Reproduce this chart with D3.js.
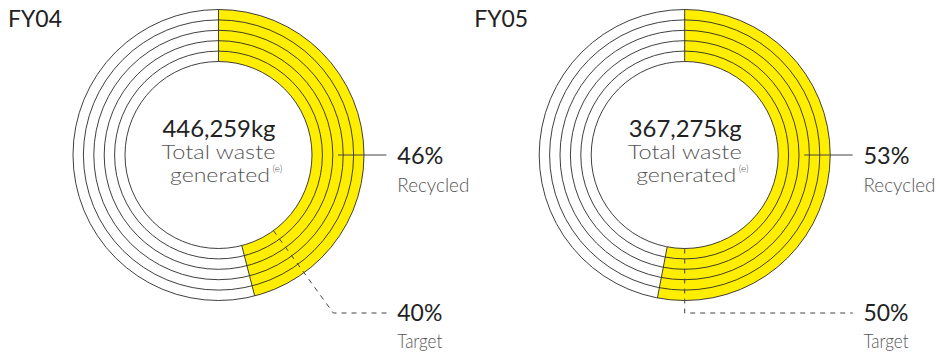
<!DOCTYPE html>
<html>
<head>
<meta charset="utf-8">
<script src="https://cdn.jsdelivr.net/npm/d3@7"></script>
<style>
  html, body { margin: 0; padding: 0; background: #fff; }
  svg { display: block; }
  text { font-family: "Lato", "Noto Sans", sans-serif; }
</style>
</head>
<body>
<svg id="chart" width="940" height="354"></svg>
<script>
// ---- data ----
const years = ["FY04", "FY05"];
const totals = ["446,259kg", "367,275kg"];
const recycledPct = [46, 53];
const targetPct = [40, 50];
const centerLine1 = "Total waste";
const centerLine2 = "generated";
const footnoteMark = "(e)";
const recycledLabel = "Recycled";
const targetLabel = "Target";
const ringCount = 5;

// ---- layout ----
const svg = d3.select("#chart");
const centersX = [218.5, 684.7];
const cy = 155;
const rInner = 93.5, rOuter = 145.5;
const yellow = "#FFEE00";
const lineCol = "#2a2a2a";

const angle = d3.scaleLinear().domain([0, 100]).range([0, 2 * Math.PI]);
const ringR = d3.scaleLinear().domain([0, ringCount]).range([rInner, rOuter]);

function fitText(sel, w) {
  sel.attr("textLength", w).attr("lengthAdjust", "spacingAndGlyphs");
  return sel;
}

years.forEach((yr, i) => {
  const cx = centersX[i];
  const g = svg.append("g").attr("transform", `translate(${cx},${cy})`);

  // yellow recycled band
  const arc = d3.arc().innerRadius(rInner).outerRadius(rOuter)
    .startAngle(0).endAngle(angle(recycledPct[i]));
  g.append("path").attr("d", arc()).attr("fill", yellow);

  // ring circles
  d3.range(ringCount + 1).forEach(k => {
    g.append("circle").attr("r", ringR(k))
      .attr("fill", "none").attr("stroke", lineCol).attr("stroke-width", 0.9);
  });

  // radial edges of band
  [0, recycledPct[i]].forEach(p => {
    const a = angle(p);
    g.append("line")
      .attr("x1", rInner * Math.sin(a)).attr("y1", -rInner * Math.cos(a))
      .attr("x2", rOuter * Math.sin(a)).attr("y2", -rOuter * Math.cos(a))
      .attr("stroke", lineCol).attr("stroke-width", 0.9);
  });

  const labelX = 178.8;
  const lineEndX = 168;

  // recycled leader line
  g.append("line")
    .attr("x1", (rInner + rOuter) / 2).attr("y1", 0)
    .attr("x2", lineEndX).attr("y2", 0)
    .attr("stroke", "#444").attr("stroke-width", 1);

  // target dashed leader
  const aT = angle(targetPct[i]);
  const yBottom = 158;
  const rEnd = yBottom / (-Math.cos(aT));
  const xBend = rEnd * Math.sin(aT);
  g.append("path")
    .attr("d", `M${rInner * Math.sin(aT)},${-rInner * Math.cos(aT)} L${xBend},${yBottom} L${lineEndX},${yBottom}`)
    .attr("fill", "none").attr("stroke", "#444").attr("stroke-width", 1)
    .attr("stroke-dasharray", "5,5");

  // labels
  fitText(g.append("text").attr("x", labelX).attr("y", 9)
    .attr("font-size", 23).attr("fill", "#222").text(recycledPct[i] + "%"), 46);
  fitText(g.append("text").attr("x", labelX).attr("y", 36.5)
    .attr("font-size", 19).attr("font-weight", 300).attr("fill", "#555").text(recycledLabel), 72);
  fitText(g.append("text").attr("x", labelX).attr("y", 166)
    .attr("font-size", 23).attr("fill", "#222").text(targetPct[i] + "%"), 45);
  fitText(g.append("text").attr("x", labelX).attr("y", 193)
    .attr("font-size", 20).attr("font-weight", 300).attr("fill", "#555").text(targetLabel), 45);

  // center text
  fitText(g.append("text").attr("x", -56).attr("y", -18.5)
    .attr("font-size", 23.5).attr("fill", "#222").text(totals[i]), 113);
  fitText(g.append("text").attr("x", -57).attr("y", 4)
    .attr("font-size", 20).attr("font-weight", 300).attr("fill", "#555").text(centerLine1), 114);
  fitText(g.append("text").attr("x", -48.5).attr("y", 26.5)
    .attr("font-size", 20).attr("font-weight", 300).attr("fill", "#555").text(centerLine2), 100);
  g.append("text").attr("x", 54).attr("y", 16.5)
    .attr("font-size", 10).attr("font-weight", 300).attr("fill", "#555").text(footnoteMark);

  // year title
  fitText(svg.append("text").attr("x", cx - 210.5).attr("y", 26.5)
    .attr("font-size", 23).attr("fill", "#222").text(yr), 54);
});
</script>
</body>
</html>
